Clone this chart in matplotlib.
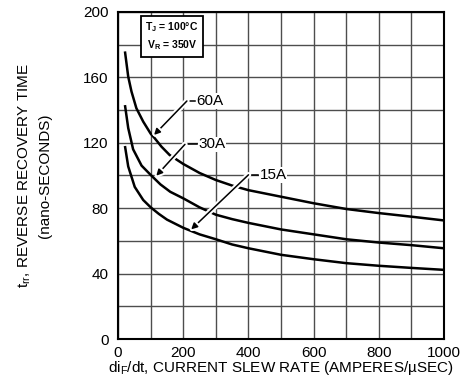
import matplotlib.pyplot as plt
import matplotlib.patheffects as pe
from matplotlib.ticker import MultipleLocator

plt.rcParams['font.family'] = ['Liberation Sans', 'DejaVu Sans']

# Curves: (di/dt in A/us, trr in ns)
x_60a = [21, 31, 41, 56, 77, 100, 112, 133, 158, 200, 250, 300, 350, 400, 500, 600, 700, 800, 900, 1000]
y_60a = [175.8, 160.4, 151.3, 141.1, 132.9, 125.5, 122.8, 117.6, 112.5, 107, 101.5, 97.2, 93.8, 91, 87, 83, 79.5, 77, 74.8, 72.5]

x_30a = [21, 31, 46, 72, 100, 130, 160, 200, 250, 300, 350, 400, 500, 600, 700, 800, 900, 1000]
y_30a = [143, 129, 116, 106, 100.3, 94.5, 90, 86, 80.5, 76, 73.3, 71, 67, 64, 61, 59, 57.4, 55.5]

x_15a = [21, 31, 51, 77, 100, 125, 150, 200, 250, 300, 350, 400, 500, 600, 700, 800, 900, 1000]
y_15a = [118, 105.5, 93, 85, 80.5, 76.5, 73, 68, 64, 61, 57.8, 55.5, 51.5, 48.8, 46.4, 44.8, 43.5, 42.3]

curve_labels = ['60A', '30A', '15A']
# leader: text start, bend point, arrow tip
label_text_pos = [(241, 145.5), (246, 119), (434, 100.4)]
label_bend = [(211, 145.5), (205, 119), (400, 100.4)]
label_tip = [(110, 124.7), (117, 99.8), (224, 67)]

x_ticks = [0, 200, 400, 600, 800, 1000]
y_ticks = [0, 40, 80, 120, 160, 200]

fig = plt.figure(figsize=(4.65, 3.81), dpi=100)
ax = fig.add_axes([0.254, 0.110, 0.701, 0.859])

ax.set_xlim(0, 1000)
ax.set_ylim(0, 200)
ax.set_xticks(x_ticks)
ax.set_yticks(y_ticks)
ax.xaxis.set_minor_locator(MultipleLocator(100))
ax.yaxis.set_minor_locator(MultipleLocator(20))
ax.grid(True, which='both', color='0.3', lw=1.0, zorder=2)

for xs, ys in [(x_60a, y_60a), (x_30a, y_30a), (x_15a, y_15a)]:
    ax.plot(xs, ys, color='black', lw=1.8, zorder=3, solid_capstyle='butt')

halo = [pe.withStroke(linewidth=4, foreground='white')]
for name, tp, bp, tip in zip(curve_labels, label_text_pos, label_bend, label_tip):
    ax.plot([bp[0], tp[0] - 5], [bp[1], tp[1]], color='black', lw=1.1, zorder=4)
    ann = ax.annotate('', xy=tip, xytext=bp,
                      arrowprops=dict(arrowstyle='-|>', color='black', lw=1.1,
                                      mutation_scale=9, shrinkA=0, shrinkB=0),
                      zorder=4)
    ann.arrow_patch.set_path_effects(halo)
    ax.text(tp[0], tp[1], name, fontsize=11, va='center', ha='left',
            zorder=5, bbox=dict(facecolor='white', edgecolor='none', pad=0.5))

ax.text(165, 185, '$\\mathregular{T_J}$ = 100°C\n$\\mathregular{V_R}$ = 350V',
        fontsize=7.5, fontweight='bold', ha='center', va='center', linespacing=1.4,
        bbox=dict(facecolor='white', edgecolor='black', lw=1.3,
                  boxstyle='square,pad=0.45'), zorder=5)

ax.tick_params(which='both', length=0, labelsize=11)
ax.tick_params(axis='y', pad=7)
ax.tick_params(axis='x', pad=5)
for sp in ax.spines.values():
    sp.set_linewidth(1.5)
    sp.set_zorder(6)

ax.set_xlabel('di$_\\mathregular{F}$/dt, CURRENT SLEW RATE (AMPERES/µSEC)',
              fontsize=11, labelpad=-1)
ax.set_ylabel('t$_\\mathregular{rr}$, REVERSE RECOVERY TIME\n(nano-SECONDS)',
              fontsize=11, labelpad=22, linespacing=1.5)

fig.savefig('out.png', dpi=100)
